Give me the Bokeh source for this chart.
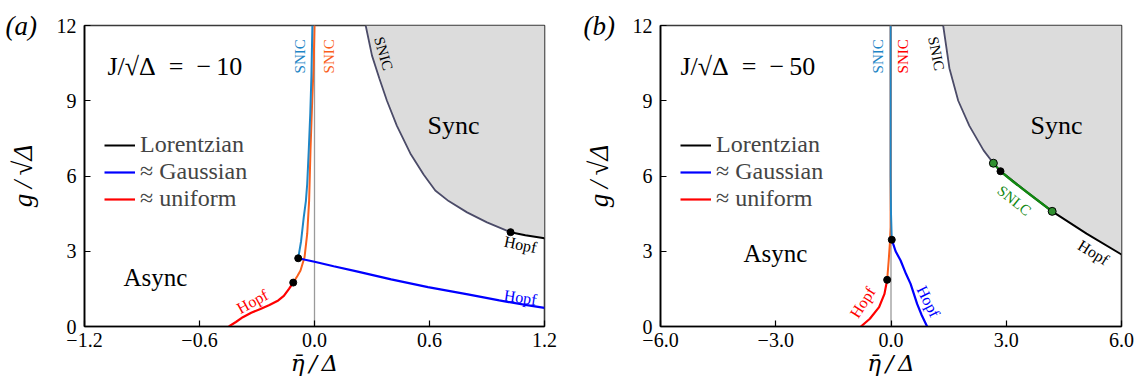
import math
from bokeh.plotting import figure
from bokeh.layouts import row
from bokeh.models import Label, Legend, LegendItem, FixedTicker, Span, Title
from bokeh.embed import file_html
from bokeh.resources import INLINE

FONT = "Liberation Serif"

# ---------------- data ----------------
y_ticks = [0, 3, 6, 9, 12]
y_tick_labels = ["0", "3", "6", "9", "12"]
g_range = (0.0, 12.0)

# panel (a)  J/sqrt(Delta) = -10
a_eta_range = (-1.2, 1.2)
a_x_ticks = [-1.2, -0.6, 0.0, 0.6, 1.2]
a_x_tick_labels = ["\u22121.2", "\u22120.6", "0.0", "0.6", "1.2"]

a_lor_snic_eta = [0.267, 0.30, 0.338, 0.378, 0.43, 0.50, 0.57, 0.63, 0.70, 0.796, 0.90, 1.023]
a_lor_snic_g = [12.0, 10.8, 9.9, 9.0, 8.0, 6.9, 6.05, 5.42, 5.0, 4.55, 4.15, 3.76]
a_lor_hopf_eta = [1.023, 1.1, 1.2]
a_lor_hopf_g = [3.76, 3.64, 3.52]

a_gau_snic_eta = [-0.085, -0.07, -0.056, -0.045, -0.038, -0.030, -0.022, -0.016, -0.011]
a_gau_snic_g = [2.72, 3.4, 4.36, 5.0, 5.69, 7.02, 8.5, 10.0, 12.0]
a_gau_hopf_eta = [-0.085, 0.0, 0.1, 0.22, 0.4, 0.592, 0.8, 0.964, 1.1, 1.2]
a_gau_hopf_g = [2.72, 2.58, 2.40, 2.2, 1.88, 1.57, 1.28, 1.04, 0.86, 0.74]

a_uni_snic_eta = [-0.111, -0.09, -0.073, -0.052, -0.038, -0.028, -0.021, -0.012, -0.004, 0.0]
a_uni_snic_g = [1.75, 2.0, 2.23, 2.76, 3.70, 5.02, 7.02, 9.0, 10.5, 12.0]
a_uni_hopf_eta = [-0.447, -0.41, -0.374, -0.33, -0.282, -0.235, -0.189, -0.16, -0.133, -0.111]
a_uni_hopf_g = [0.0, 0.18, 0.37, 0.55, 0.70, 0.86, 1.04, 1.22, 1.50, 1.75]

a_black_dots_eta = [1.023, -0.085, -0.111]
a_black_dots_g = [3.76, 2.72, 1.75]

# panel (b)  J/sqrt(Delta) = -50
b_eta_range = (-6.0, 6.0)
b_x_ticks = [-6.0, -3.0, 0.0, 3.0, 6.0]
b_x_tick_labels = ["\u22126.0", "\u22123.0", "0.0", "3.0", "6.0"]

b_lor_snic_eta = [1.358, 1.52, 1.75, 2.04, 2.41, 2.665]
b_lor_snic_g = [12.0, 10.3, 9.0, 8.0, 7.02, 6.51]
b_lor_snlc_eta = [2.665, 2.85, 3.2, 3.6, 4.195]
b_lor_snlc_g = [6.51, 6.19, 5.75, 5.28, 4.59]
b_lor_hopf_eta = [2.85, 3.5, 4.195, 5.09, 6.0]
b_lor_hopf_g = [6.19, 5.4, 4.59, 3.70, 2.87]

b_gau_snic_eta = [0.02, 0.0, -0.01, -0.01]
b_gau_snic_g = [3.46, 4.5, 6.0, 12.0]
b_gau_hopf_eta = [0.02, 0.12, 0.25, 0.39, 0.51, 0.68, 0.8, 0.94]
b_gau_hopf_g = [3.46, 3.0, 2.63, 2.1, 1.70, 0.9, 0.45, 0.0]

b_uni_snic_eta = [-0.10, -0.06, -0.03, -0.01, -0.01]
b_uni_snic_g = [1.86, 2.63, 3.30, 3.96, 12.0]
b_uni_hopf_eta = [-0.783, -0.55, -0.31, -0.17, -0.10]
b_uni_hopf_g = [0.0, 0.31, 0.77, 1.30, 1.86]

b_black_dots_eta = [2.85, 0.02, -0.10]
b_black_dots_g = [6.19, 3.46, 1.86]
b_green_dots_eta = [2.665, 4.195]
b_green_dots_g = [6.51, 4.59]

eta_ref = 0.0

# ---------------- styles ----------------
C_LOR = "#4b4b68"
C_GAU_SNIC = "#1f86c6"
C_UNI_SNIC = "#fa5f1c"
C_GAU = "#0000ff"
C_UNI = "#ff0000"
C_GREEN = "#118811"
C_FILL = "#dcdcdc"


def add_label(p, text, x, y, size, color="black", angle=0.0, align="center",
              baseline="middle", style="normal"):
    p.add_layout(Label(x=x, y=y, text=text,
                       angle=angle, text_align=align, text_baseline=baseline,
                       text_font=FONT, text_font_size=size, text_color=color,
                       text_font_style=style))


def make_panel(eta_range, x_ticks, x_tick_labels, border_left, border_right, width):
    p = figure(width=width, height=383, x_range=eta_range, y_range=g_range,
               output_backend="svg", toolbar_location=None,
               min_border_left=border_left, min_border_right=border_right,
               min_border_top=25, min_border_bottom=57,
               background_fill_color="white", border_fill_color="white")
    p.grid.visible = False
    p.outline_line_color = "#3a3a3a"
    p.outline_line_width = 1.6
    for ax in (p.xaxis[0], p.yaxis[0]):
        ax.axis_line_color = "black"
        ax.axis_line_width = 1.6
        ax.major_tick_in = 6
        ax.major_tick_out = 0
        ax.major_tick_line_width = 1.2
        ax.minor_tick_line_color = None
        ax.major_label_text_font = FONT
        ax.major_label_text_font_size = "20px"
        ax.major_label_text_color = "black"
        ax.axis_label_text_font = FONT
        ax.axis_label_text_font_style = "italic"
        ax.axis_label_text_color = "black"
    p.xaxis.ticker = FixedTicker(ticks=x_ticks)
    p.xaxis.major_label_overrides = {t: l for t, l in zip(x_ticks, x_tick_labels)}
    p.xaxis.major_label_standoff = 6
    p.xaxis.axis_label = "\u03b7\u0304\u2009/\u2009\u0394"
    p.xaxis.axis_label_text_font = "DejaVu Serif"
    p.xaxis.axis_label_text_font_size = "23px"
    p.xaxis.axis_label_standoff = 0
    p.yaxis.ticker = FixedTicker(ticks=y_ticks)
    p.yaxis.major_label_overrides = {t: l for t, l in zip(y_ticks, y_tick_labels)}
    p.yaxis.major_label_standoff = 8
    p.yaxis.axis_label = "g\u2009/\u2009\u221a\u0394"
    p.yaxis.axis_label_text_font_size = "27px"
    p.yaxis.axis_label_standoff = 16
    p.add_layout(Span(location=eta_ref, dimension="height", line_color="#9a9a9a",
                      line_width=1.3, level="underlay"))
    return p


def add_tag(p, text, offset):
    p.add_layout(Title(text=text, align="left", offset=offset, standoff=-30,
                       vertical_align="bottom",
                       text_font=FONT, text_font_size="27px", text_font_style="italic",
                       text_color="black"), "above")


def add_legend(p, r_lor, r_gau, r_uni):
    leg = Legend(items=[LegendItem(label="Lorentzian", renderers=[r_lor]),
                        LegendItem(label="\u2248 Gaussian", renderers=[r_gau]),
                        LegendItem(label="\u2248 uniform", renderers=[r_uni])],
                 location=(20, 114), border_line_color=None, background_fill_alpha=0,
                 label_text_font=FONT, label_text_font_size="24px",
                 glyph_width=31, glyph_height=24, label_height=24, spacing=0,
                 padding=0, margin=0, label_standoff=5)
    p.add_layout(leg)


# ---------------- panel (a) ----------------
pa = make_panel(a_eta_range, a_x_ticks, a_x_tick_labels, 84, 24, 568)
pa.patch(a_lor_snic_eta + a_lor_hopf_eta[1:] + [a_eta_range[1]],
         a_lor_snic_g + a_lor_hopf_g[1:] + [g_range[1]],
         fill_color=C_FILL, line_color=None)
pa.line(a_lor_snic_eta, a_lor_snic_g, line_color=C_LOR, line_width=1.8)
ra_lor = pa.line(a_lor_hopf_eta, a_lor_hopf_g, line_color="black", line_width=2)
pa.line(a_uni_snic_eta, a_uni_snic_g, line_color=C_UNI_SNIC, line_width=2)
pa.line(a_gau_snic_eta, a_gau_snic_g, line_color=C_GAU_SNIC, line_width=2)
ra_gau = pa.line(a_gau_hopf_eta, a_gau_hopf_g, line_color=C_GAU, line_width=2.2)
ra_uni = pa.line(a_uni_hopf_eta, a_uni_hopf_g, line_color=C_UNI, line_width=2.2)
pa.scatter(a_black_dots_eta, a_black_dots_g, size=7, color="black")
add_legend(pa, ra_lor, ra_gau, ra_uni)

add_tag(pa, "(a)", -79)
add_label(pa, "J/\u221a\u0394\u2002=\u2002\u2212\u200910", -1.08, 10.37, "26px", align="left")
add_label(pa, "Sync", 0.725, 8.0, "26px")
add_label(pa, "Async", -0.83, 1.95, "25px")
add_label(pa, "SNIC", -0.076, 10.77, "15px", color=C_GAU_SNIC, angle=math.pi / 2)
add_label(pa, "SNIC", 0.078, 10.77, "15px", color=C_UNI_SNIC, angle=math.pi / 2)
add_label(pa, "SNIC", 0.36, 10.88, "15px", color="black", angle=-1.29)
add_label(pa, "Hopf", -0.324, 1.0, "16px", color=C_UNI, angle=0.5)
add_label(pa, "Hopf", 1.074, 1.16, "16px", color=C_GAU, angle=-0.15)
add_label(pa, "Hopf", 1.074, 3.27, "16px", color="black", angle=-0.2)

# ---------------- panel (b) ----------------
pb = make_panel(b_eta_range, b_x_ticks, b_x_tick_labels, 92, 15, 568)
pb.patch(b_lor_snic_eta + b_lor_snlc_eta[1:] + b_lor_hopf_eta[3:] + [b_eta_range[1]],
         b_lor_snic_g + b_lor_snlc_g[1:] + b_lor_hopf_g[3:] + [g_range[1]],
         fill_color=C_FILL, line_color=None)
pb.line(b_lor_snic_eta, b_lor_snic_g, line_color=C_LOR, line_width=1.8)
rb_lor = pb.line(b_lor_hopf_eta, b_lor_hopf_g, line_color="black", line_width=2)
pb.line(b_lor_snlc_eta, b_lor_snlc_g, line_color=C_GREEN, line_width=2.4)
pb.line(b_uni_snic_eta, b_uni_snic_g, line_color=C_UNI_SNIC, line_width=2)
pb.line(b_gau_snic_eta, b_gau_snic_g, line_color=C_GAU_SNIC, line_width=2)
rb_gau = pb.line(b_gau_hopf_eta, b_gau_hopf_g, line_color=C_GAU, line_width=2.2)
rb_uni = pb.line(b_uni_hopf_eta, b_uni_hopf_g, line_color=C_UNI, line_width=2.2)
pb.scatter(b_black_dots_eta, b_black_dots_g, size=7, color="black")
pb.scatter(b_green_dots_eta, b_green_dots_g, size=8, fill_color="#2f8f2f",
           line_color="black", line_width=1)
add_legend(pb, rb_lor, rb_gau, rb_uni)

add_tag(pb, "(b)", -77)
add_label(pb, "J/\u221a\u0394\u2002=\u2002\u2212\u200950", -5.48, 10.37, "26px", align="left")
add_label(pb, "Sync", 4.31, 8.0, "26px")
add_label(pb, "Async", -3.01, 2.93, "25px")
add_label(pb, "SNIC", -0.35, 10.77, "15px", color=C_GAU_SNIC, angle=math.pi / 2)
add_label(pb, "SNIC", 0.325, 10.77, "15px", color=C_UNI, angle=math.pi / 2)
add_label(pb, "SNIC", 1.18, 10.88, "15px", color="black", angle=-1.37)
add_label(pb, "SNLC", 3.21, 5.02, "15px", color=C_GREEN, angle=-0.68)
add_label(pb, "Hopf", 5.27, 2.95, "16px", color="black", angle=-0.555)
add_label(pb, "Hopf", -0.74, 0.96, "16px", color=C_UNI, angle=1.0)
add_label(pb, "Hopf", 0.976, 1.0, "16px", color=C_GAU, angle=-1.1)

layout = row(pa, pb)
open("out.html", "w").write(file_html(layout, INLINE))
